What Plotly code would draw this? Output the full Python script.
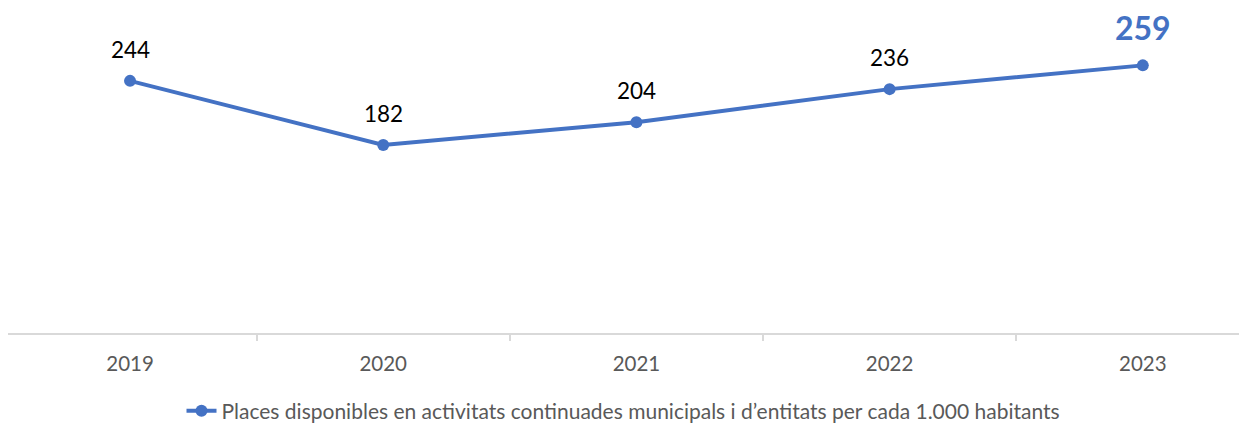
import plotly.graph_objects as go

years = ["2019", "2020", "2021", "2022", "2023"]
values = [244, 182, 204, 236, 259]
series_name = "Places disponibles en activitats continuades municipals i d\u2019entitats per cada 1.000 habitants"

BLUE = "#4472C4"
FONT = "Lato, Carlito, Calibri, sans-serif"

fig = go.Figure()
fig.add_trace(go.Scatter(
    x=years, y=values, mode="lines+markers", name=series_name,
    line=dict(color=BLUE, width=4),
    marker=dict(color=BLUE, size=12),
    cliponaxis=False,
))

for i, v in enumerate(values):
    last = i == len(values) - 1
    fig.add_annotation(
        x=i, y=v, xref="x", yref="y", text=f"<b>{v}</b>" if last else str(v),
        showarrow=False, yanchor="bottom", yshift=16,
        font=dict(family=FONT, size=32 if last else 22.5, color=BLUE if last else "#000000"),
    )

fig.update_layout(
    width=1239, height=423,
    margin=dict(l=8, r=0, t=23, b=90, autoexpand=False),
    paper_bgcolor="white", plot_bgcolor="white",
    showlegend=True,
    legend=dict(orientation="h", x=0.5, xanchor="center", xref="paper",
                yref="container", y=0.028, yanchor="middle",
                font=dict(family=FONT, size=21, color="#595959")),
    font=dict(family=FONT),
)
fig.update_xaxes(
    type="category", range=[-0.482, 4.38],
    showline=True, linecolor="#D9D9D9", linewidth=1.5,
    tickson="boundaries", ticks="outside", ticklen=6, tickcolor="#D9D9D9", tickwidth=1.5,
    ticklabelstandoff=12,
    showgrid=False, zeroline=False,
    tickfont=dict(family=FONT, size=20.5, color="#595959"),
)
fig.update_yaxes(range=[0, 300], visible=False, showgrid=False, zeroline=False)

fig.write_html("out.html", config={"displayModeBar": False},
               post_script="document.body.style.margin='0';")
